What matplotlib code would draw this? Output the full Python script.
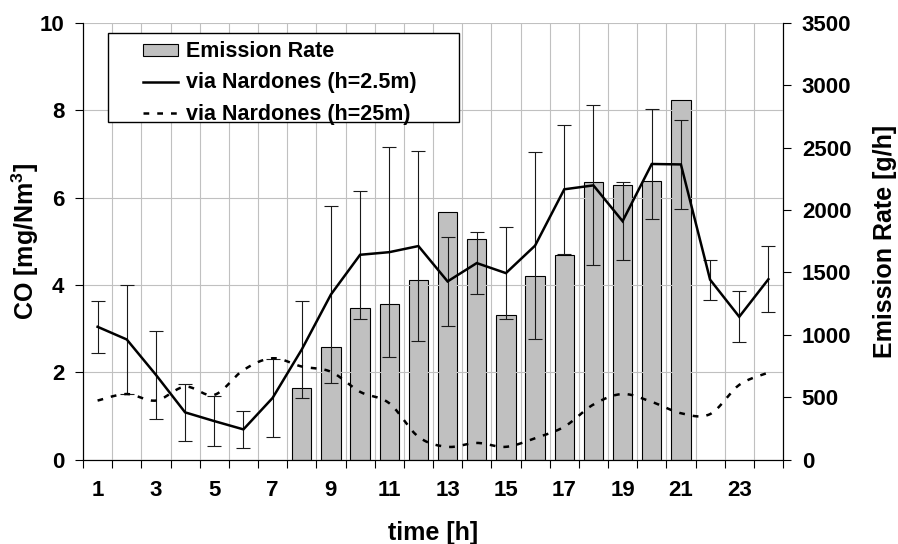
import matplotlib
matplotlib.use("Agg")
import matplotlib.pyplot as plt
import numpy as np
from matplotlib.patches import Rectangle

plt.rcParams['font.family'] = ['Liberation Sans', 'DejaVu Sans']
plt.rcParams['font.weight'] = 'bold'
plt.rcParams['axes.labelweight'] = 'bold'
plt.rcParams['mathtext.fontset'] = 'custom'
plt.rcParams['mathtext.bf'] = 'Liberation Sans:bold'
plt.rcParams['mathtext.rm'] = 'Liberation Sans:bold'

# hourly data
hours = np.arange(1, 25)
co_low = [3.04, 2.75, 1.94, 1.08, 0.88, 0.69, 1.41, 2.52, 3.78, 4.69, 4.75, 4.89,
          4.08, 4.50, 4.27, 4.90, 6.19, 6.28, 5.46, 6.77, 6.76, 4.12, 3.27, 4.13]
co_low_err = [0.60, 1.25, 1.01, 0.66, 0.57, 0.42, 0.90, 1.10, 2.02, 1.47, 2.40, 2.17,
              1.02, 0.71, 1.05, 2.15, 1.48, 1.83, 0.90, 1.26, 1.01, 0.46, 0.58, 0.75]
co_high = [1.35, 1.50, 1.35, 1.67, 1.48, 2.05, 2.32, 2.13, 2.01, 1.55, 1.29, 0.52,
           0.29, 0.38, 0.29, 0.49, 0.75, 1.26, 1.50, 1.32, 1.06, 1.04, 1.71, 1.99]
emis_hours = np.arange(8, 22)
emis_rate = [571, 902, 1212, 1244, 1436, 1982, 1766, 1162, 1474, 1640, 2227, 2204, 2231, 2883]
odd_hours = np.arange(1, 24, 2)


def smooth(x, y, n=20):
    # Catmull-Rom style bezier smoothing through the points
    x = np.asarray(x, float)
    y = np.asarray(y, float)
    px = np.concatenate([[x[0]], x, [x[-1]]])
    py = np.concatenate([[y[0]], y, [y[-1]]])
    xs, ys = [], []
    t = np.linspace(0, 1, n, endpoint=False)
    for i in range(1, len(px) - 2):
        p0 = np.array([px[i], py[i]])
        p3 = np.array([px[i + 1], py[i + 1]])
        c1 = p0 + (np.array([px[i + 1], py[i + 1]]) - np.array([px[i - 1], py[i - 1]])) / 6
        c2 = p3 - (np.array([px[i + 2], py[i + 2]]) - np.array([px[i], py[i]])) / 6
        b = ((1 - t) ** 3)[:, None] * p0 + (3 * (1 - t) ** 2 * t)[:, None] * c1 \
            + (3 * (1 - t) * t ** 2)[:, None] * c2 + (t ** 3)[:, None] * p3
        xs.extend(b[:, 0])
        ys.extend(b[:, 1])
    xs.append(x[-1])
    ys.append(y[-1])
    return xs, ys


fig = plt.figure(figsize=(8.98, 5.44), dpi=100)
ax = fig.add_axes([0.09243, 0.15533, 0.77951, 0.80239])
ax2 = ax.twinx()
ax.set_zorder(ax2.get_zorder() + 1)
ax.patch.set_visible(False)

# emission rate bars on the right axis
bars = ax2.bar(emis_hours, emis_rate, width=0.66, color='#c0c0c0', edgecolor='black',
               linewidth=0.8, label='Emission Rate')
ax2.set_ylim(0, 3500)
ax2.set_yticks(np.arange(0, 3501, 500))

ax.errorbar(hours, co_low, yerr=co_low_err, fmt='none', ecolor='#1a1a1a',
            elinewidth=0.8, capsize=5, capthick=0.8, zorder=2)
line1, = ax.plot(hours, co_low, color='black', lw=1.8, solid_joinstyle='miter',
                 label='via Nardones (h=2.5m)', zorder=3)
sx, sy = smooth(hours, co_high)
line2, = ax.plot(sx, sy, color='black', lw=1.8, linestyle=(0, (2.3, 3.2)),
                 label='via Nardones (h=25m)', zorder=3)

ax.set_ylim(0, 10)
ax.set_yticks(np.arange(0, 11, 2))
ax.set_xlim(0.5, 24.5)
ax.set_xticks(np.arange(0.5, 25, 1))
ax.set_xticklabels([])
ax.set_xticks(odd_hours, minor=True)
ax.set_xticklabels([str(h) for h in odd_hours], minor=True)

ax.grid(True, which='major', color='#c0c0c0', lw=0.8, zorder=0)
ax.set_axisbelow(True)

for a in (ax, ax2):
    a.spines['top'].set_visible(False)
    for s in a.spines.values():
        s.set_linewidth(0.8)

ax.tick_params(axis='x', which='major', direction='out', length=5.5, width=0.8)
ax.tick_params(axis='x', which='minor', length=0, pad=15, labelsize=16)
ax.tick_params(axis='y', direction='out', length=5.5, width=0.8, pad=8, labelsize=16)
ax2.tick_params(axis='y', direction='out', length=5.5, width=0.8, pad=8, labelsize=16)

ax.set_xlabel('time [h]', fontsize=18, labelpad=14)
ax.set_ylabel(r'CO [mg/Nm$^\mathbf{3}$]', fontsize=18, labelpad=-1)
ax2.set_ylabel('Emission Rate [g/h]', fontsize=18, labelpad=16)

# legend box
ax.add_patch(Rectangle((0.0357, 0.7739), 0.5014, 0.2025, transform=ax.transAxes,
                       facecolor='white', edgecolor='black', lw=1.0, zorder=4.9))
ax.legend([bars, line1, line2], ['Emission Rate', 'via Nardones (h=2.5m)', 'via Nardones (h=25m)'],
          loc='upper left', bbox_to_anchor=(0.0853, 0.958), frameon=False, borderpad=0,
          borderaxespad=0, fontsize=15.5, handlelength=1.66, handleheight=0.5,
          handletextpad=0.36, labelspacing=0.47).set_zorder(5)

fig.savefig('out.png', dpi=100)
